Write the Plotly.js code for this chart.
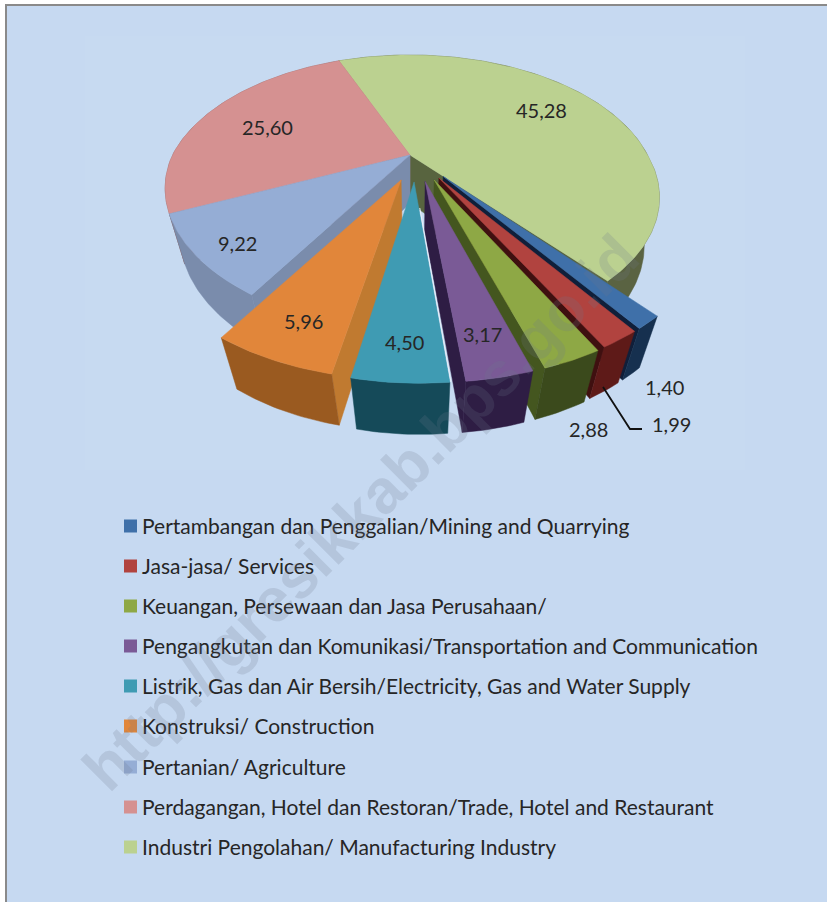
<!DOCTYPE html>
<html><head><meta charset="utf-8">
<script src="https://cdn.plot.ly/plotly-3.0.1.min.js"></script>
<style>html,body{margin:0;padding:0;background:#fff}#c{width:827px;height:902px}</style>
</head><body><div id="c"></div>
<script>
const categories = [
 "Pertambangan dan Penggalian/Mining and Quarrying",
 "Jasa-jasa/ Services",
 "Keuangan, Persewaan dan Jasa Perusahaan/",
 "Pengangkutan dan Komunikasi/Transportation and Communication",
 "Listrik, Gas dan Air Bersih/Electricity, Gas and Water Supply",
 "Konstruksi/ Construction",
 "Pertanian/ Agriculture",
 "Perdagangan, Hotel dan Restoran/Trade, Hotel and Restaurant",
 "Industri Pengolahan/ Manufacturing Industry"];
const values = [1.40,1.99,2.88,3.17,4.50,5.96,9.22,25.60,45.28];
const topColors = ["#3f70a9","#b1433f","#8ea845","#7a5a96","#3f9bb3","#e1863a","#95add5","#d59191","#bbd190"];
const wallColors = ["#16304f","#5e1a18","#3b4a1c","#2e1d44","#154a59","#9a5a20","#7a8cac","#8a6060","#5a6342"];
const sideColors = ["#101f3a","#3f1010","#44561f","#2e1d44","#154a59","#c07a30","#7a8cac","#8a6060","#58643f"];
const explode = [0.2,0.2,0.2,0.2,0.2,0.2,0,0,0];
const nudge = [3,3,5,5,6,9,0,0,0];
const paintOrder = [8,7,6,0,1,2,3,5,4];
const labelPos = [[664,387],[671,424],[588,429],[482,334],[404,342],[303,321],[237,243],[267,127],[541,110]];
const legendY = [526,566,606,646,686,726,767,807,847];

const firstAngle = 141, cx = 410, cy = 155, a = 237.5, b = 127.5, k = 0.275, d = 0.06, H = 51;
const rad = t => t*Math.PI/180;
function proj(u,v,i){
  const shear = explode[i]>0 ? 0.03 : 0.06;
  const w = 1+k*v;
  const Yt = -b*v/w, Xt = a*u/w, sh = nudge[i]+shear*Math.max(0,Yt);
  return {top:[cx+Xt+sh, cy+Yt], bot:[cx+a*u/(w+d)+sh, cy+(-b*v+H)/(w+d)]};
}
const total = values.reduce((p,c)=>p+c,0);
let ang = firstAngle;
const slices = values.map((val,i)=>{
  const s = ang, e = ang+val/total*360; ang = e;
  const m = rad((s+e)/2), ox = explode[i]*Math.sin(m), oy = explode[i]*Math.cos(m);
  const P = (r,t)=>proj(r*Math.sin(rad(t))+ox, r*Math.cos(rad(t))+oy, i);
  const rim = [];
  for(let t=s;t<e;t+=1) rim.push(P(1,t));
  rim.push(P(1,e));
  return {apex:P(0,s), rim};
});
function poly(pts,color,name){
  return {type:'scatter',mode:'lines',x:pts.map(p=>p[0]).concat(pts[0][0]),y:pts.map(p=>p[1]).concat(pts[0][1]),
    fill:'toself',fillcolor:color,line:{color:color,width:0.5},name:name,hoverinfo:'name',showlegend:false};
}
function area(pts){
  let s=0; pts.forEach((p,i)=>{const q=pts[(i+1)%pts.length]; s+=p[0]*q[1]-q[0]*p[1];}); return s;
}
const traces = [];
paintOrder.forEach(i=>{
  const S = slices[i], n = categories[i];
  const f = S.rim[0], l = S.rim[S.rim.length-1];
  const startWall = [S.apex.top,f.top,f.bot,S.apex.bot], endWall = [S.apex.top,l.top,l.bot,S.apex.bot];
  if(area(startWall)<0) traces.push(poly(startWall,sideColors[i],n));
  if(area(endWall)>0) traces.push(poly(endWall,sideColors[i],n));
  traces.push(poly(S.rim.map(p=>p.top).concat(S.rim.map(p=>p.bot).reverse()),wallColors[i],n));
  traces.push(poly([S.apex.top].concat(S.rim.map(p=>p.top)),topColors[i],n));
});
// pale sliver along the right edge of the electricity slice
{
  const S = slices[4], l = S.rim[0], p0 = S.apex.top, p1 = l.top, t0 = 0.13;
  traces.push({type:'scatter',mode:'lines',x:[p0[0]+(p1[0]-p0[0])*t0+1,p1[0]+1],y:[p0[1]+(p1[1]-p0[1])*t0,p1[1]],
    line:{color:'#e8f0fb',width:1},hoverinfo:'skip',showlegend:false});
}
// leader line for 1,99
traces.push({type:'scatter',mode:'lines',x:[603,630,642],y:[387,429,429],line:{color:'#111',width:1.8},hoverinfo:'skip',showlegend:false});
// legend swatches
traces.push({type:'scatter',mode:'markers',x:legendY.map(()=>130.5),y:legendY,
  marker:{symbol:'square',size:13,color:topColors,line:{width:0}},hovertext:categories,hoverinfo:'text',showlegend:false});

const font = {family:'Lato, Carlito, sans-serif',color:'#262626'};
const annotations = values.map((v,i)=>({x:labelPos[i][0],y:labelPos[i][1],xref:'x',yref:'y',showarrow:false,
    text:v.toFixed(2).replace('.',','),font:{...font,size:20}}))
  .concat(categories.map((c,i)=>({x:140,y:legendY[i]-1,xref:'x',yref:'y',xanchor:'left',showarrow:false,text:c,font:{...font,size:21}})))
  .concat([{x:360,y:512,xref:'x',yref:'y',showarrow:false,textangle:-45,text:'<b>http://gresikkab.bps.go.id</b>',
    font:{family:'Liberation Sans, Arial, sans-serif',size:62,color:'rgba(110,120,140,0.2)'}}]);

Plotly.newPlot('c',traces,{
  width:827,height:902,margin:{l:0,r:0,t:0,b:0},paper_bgcolor:'#fff',plot_bgcolor:'rgba(0,0,0,0)',showlegend:false,
  xaxis:{range:[0,827],visible:false,fixedrange:true},
  yaxis:{range:[902,0],visible:false,fixedrange:true},
  shapes:[
    {type:'rect',layer:'below',xref:'x',yref:'y',x0:6,x1:840,y0:5,y1:915,fillcolor:'#c6d9f1',line:{color:'#8a8a8a',width:2}},
    {type:'rect',layer:'below',xref:'x',yref:'y',x0:85,x1:745,y0:36,y1:470,fillcolor:'#c7daf1',line:{width:0}}],
  annotations
},{displayModeBar:false,staticPlot:true});
</script></body></html>
